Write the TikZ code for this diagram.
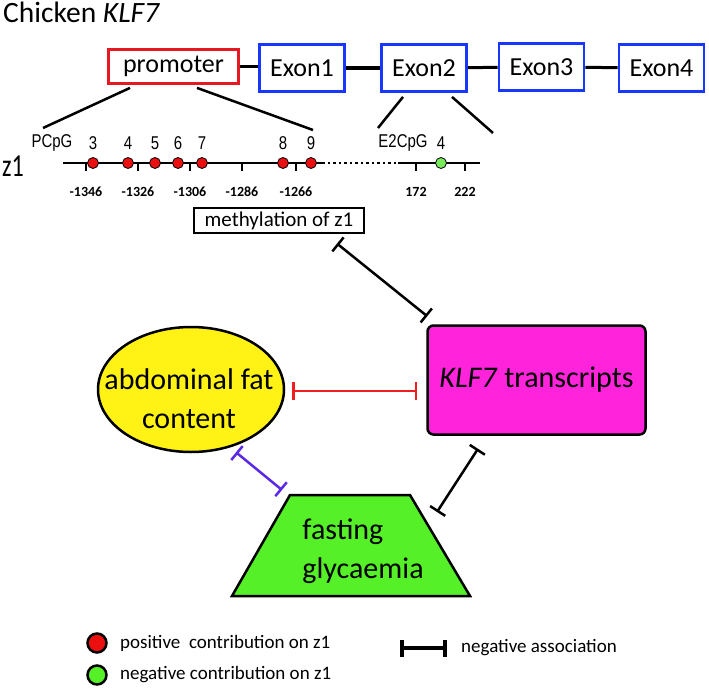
\documentclass[tikz,border=0pt]{standalone}
\usepackage{fontspec}
\setmainfont{Carlito}
\newfontfamily\narrowsf{Liberation Sans}[FakeStretch=0.81]
\newfontfamily\narrowcal{Carlito}[FakeStretch=0.75]
\usepackage{tikz}
\usetikzlibrary{arrows.meta,calc,shapes.geometric}

\definecolor{exonblue}{RGB}{25,55,250}
\definecolor{promred}{RGB}{230,25,35}
\definecolor{klfmag}{RGB}{255,35,220}
\definecolor{fatyellow}{RGB}{255,242,20}
\definecolor{glygreen}{RGB}{85,240,40}
\definecolor{cpgred}{RGB}{235,15,15}
\definecolor{cpggreen}{RGB}{120,235,90}
\definecolor{teered}{RGB}{240,30,30}
\definecolor{teeblue}{RGB}{90,40,230}

\begin{document}
\begin{tikzpicture}[x=1pt,y=1pt,yscale=-1,xscale=1,
  exonbox/.style={draw=exonblue,line width=2.8pt,minimum width=85pt,minimum height=47pt,inner sep=0pt,font=\fontsize{26}{30}\selectfont},
  promobox/.style={draw=promred,line width=2.8pt,minimum width=130pt,minimum height=34pt,inner sep=0pt,font=\fontsize{26}{30}\selectfont},
  link/.style={line width=3pt},
  zoomline/.style={line width=2.5pt},
  axisline/.style={line width=2pt},
  cpg/.style={circle,draw=black,line width=0.8pt,minimum size=11pt,inner sep=0pt},
  cpglab/.style={inner sep=0pt,font=\narrowsf\fontsize{18.5}{20}\selectfont},
  ticklab/.style={inner sep=0pt,font=\bfseries\fontsize{14}{16}\selectfont},
  bigtext/.style={inner sep=0pt,font=\fontsize{30}{39}\selectfont},
  tee/.style={{Bar[width=18pt]}-{Bar[width=18pt]},line width=2.5pt},
  legdot/.style={circle,draw=black,line width=2.5pt,minimum size=19pt,inner sep=0pt},
  legtext/.style={anchor=west,inner sep=0pt,font=\fontsize{19}{22}\selectfont}]
\useasboundingbox (0,0) rectangle (709,693);

% Text Node
\node[anchor=base west,inner sep=0pt,font=\fontsize{29.5}{33}\selectfont] (title) at (3,23) {Chicken \textit{KLF7}};

%Shape: Rectangle
\node[promobox] (prom) at (173.5,66.5) {promoter};
\node[exonbox] (ex1) at (302,68) {Exon1};
\node[exonbox] (ex2) at (424,68) {Exon2};
\node[exonbox] (ex3) at (541.5,67) {Exon3};
\node[exonbox] (ex4) at (661.5,68) {Exon4};

%Straight Lines
\draw[link] (prom.east) -- (prom.east -| ex1.west);
\draw[link] (ex1) -- (ex2);
\draw[link] (ex2) -- (ex3);
\draw[link] (ex3) -- (ex4);

%Straight Lines
\coordinate (pcpgL) at (43,128);
\coordinate (pcpgR) at (313,130);
\coordinate (e2L) at (378,128);
\coordinate (e2R) at (493,133);
\draw[zoomline] ($(prom.south)+(-43.5,3)$) -- (pcpgL);
\draw[zoomline] ($(prom.south)+(23.5,3)$) -- (pcpgR);
\draw[zoomline] ($(ex2.south)+(-21,4)$) -- (e2L);
\draw[zoomline] ($(ex2.south)+(28,4)$) -- (e2R);

% Text Node
\node[inner sep=0pt,font=\narrowcal\fontsize{32}{34}\selectfont] (zone) at (13,166) {z1};
\node[cpglab] (pcpg) at (52,143) {PCpG};
\node[cpglab] (e2cpg) at (403,143) {E2CpG};

%Straight Lines
\draw[axisline] (63,163) -- (322,163);
\draw[line width=2.5pt,dash pattern=on 2.5pt off 3pt] (322,163) -- (398,163);
\draw[axisline] (398,163) -- (480,163);
\foreach \x/\t in {86/-1346,138/-1326,190/-1306,242/-1286,296/-1266,416/172,465/222}{
  \draw[axisline] (\x,163) -- (\x,171);
  \node[ticklab] (tick\x) at (\x,192) {\t};
}

%Shape: Circle
\foreach \x/\n in {93/3,128/4,155/5,178/6,202/7,283/8,311/9}{
  \node[cpg,fill=cpgred] (pc\n) at (\x,163) {};
  \node[cpglab] (pclab\n) at (\x,143) {\n};
}
\node[cpg,fill=cpggreen] (ec4) at (441,163) {};
\node[cpglab] (eclab4) at (441,143) {4};

%Shape: Rectangle
\node[draw,line width=1.2pt,minimum width=170pt,minimum height=25pt,inner sep=0pt,font=\fontsize{21}{24}\selectfont] (meth) at (279,220.5) {methylation of z1};

%Shape: Rectangle
\node[draw,fill=klfmag,line width=2.5pt,rounded corners=6pt,minimum width=218pt,minimum height=109pt,inner sep=0pt,font=\fontsize{30}{36}\selectfont] (klf) at (536.5,380) {\textit{KLF7} transcripts};

%Shape: Ellipse
\node[ellipse,draw,fill=fatyellow,line width=2.5pt,minimum width=186pt,minimum height=125pt,inner sep=0pt] (fat) at (191,389.5) {};
\node[bigtext,align=center] (fattxt) at (189,399) {abdominal fat\\content};

%Shape: Trapezoid
\draw[fill=glygreen,line width=2.5pt,line join=miter] (290,495) coordinate (glyTL) -- (410,495) coordinate (glyTR) -- (470,596) -- (232,596) -- cycle;
\node[bigtext,align=left] (gly) at (363,551) {fasting\\glycaemia};

%Straight Lines
\draw[tee] ($(meth.south)+(58,10)$) -- ($(klf.north west)+(1,-8)$);
\draw[tee,draw=teered] ($(fat.east)+(7,1.5)$) -- ($(klf.west)+(-9,11)$);
\draw[tee,draw=teeblue] ($(fat.south)+(45,-1)$) -- ($(glyTL)+(-8,-5)$);
\draw[tee] ($(klf.south)+(-58.5,13)$) -- ($(glyTR)+(27,17)$);

% Legend
\node[legdot,fill=cpgred] (legpos) at (97,643) {};
\node[legtext] (legpostxt) at (120,643) {positive\ \ contribution on z1};
\node[legdot,fill=glygreen] (legneg) at (97,675) {};
\node[legtext] (legnegtxt) at (120,675) {negative contribution on z1};
\coordinate (legA) at (400,648);
\coordinate (legB) at (447,648);
\draw[{Bar[width=17pt]}-{Bar[width=17pt]},line width=4pt] (legA) -- (legB);
\node[legtext] (legassoc) at (461,648) {negative association};

\end{tikzpicture}
\end{document}
